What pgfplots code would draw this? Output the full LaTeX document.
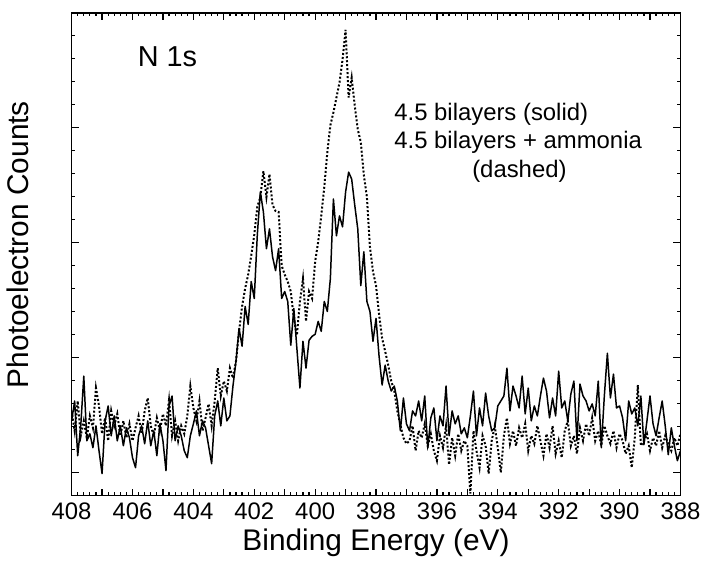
\documentclass[border=0pt]{standalone}
\usepackage{fontspec}
\setmainfont{Liberation Sans}
\usepackage{pgfplots}
\pgfplotsset{compat=1.18}
\begin{document}
\begin{tikzpicture}
\begin{axis}[
    name=ax,
    scale only axis,
    width=306pt, height=242.5pt,
    xmin=388, xmax=408, x dir=reverse,
    ymin=0, ymax=485,
    xtick={388,390,...,408},
    minor x tick num=9,
    extra x ticks={389,391,...,407},
    extra x tick labels={},
    ytick={23.1,138.6,254.1,369.6},
    yticklabels={},
    minor ytick={0,23.1,...,485},
    tick align=inside,
    major tick length=3.5pt,
    minor tick length=1.8pt,
    every tick/.style={black, line width=0.6pt},
    axis line style={line width=0.8pt},
    /pgf/number format/assume math mode=true,
    tick label style={font=\fontsize{12}{14}\selectfont},
    xlabel={Binding Energy (eV)},
    ylabel={Photoelectron Counts},
    xlabel style={at={(axis description cs:0.5,-0.097)}, anchor=center, font=\fontsize{15}{18}\selectfont},
    ylabel style={at={(axis description cs:-0.088,0.52)}, anchor=center, font=\fontsize{15}{18}\selectfont},
]
% 4.5 bilayers (solid)
\addplot[black, line width=0.75pt, line join=round] coordinates {
(408.0,75) (407.9,95) (407.8,40) (407.7,70) (407.6,120) (407.5,55) (407.4,62) (407.3,48) (407.2,70) (407.1,45)
(407.0,22) (406.9,75) (406.8,90) (406.7,60) (406.6,80) (406.5,55) (406.4,70) (406.3,50) (406.2,68) (406.1,58)
(406.0,38) (405.9,28) (405.8,60) (405.7,70) (405.6,52) (405.5,75) (405.4,50) (405.3,65) (405.2,40) (405.1,72)
(405.0,55) (404.9,25) (404.8,90) (404.7,100) (404.6,55) (404.5,70) (404.4,60) (404.3,45) (404.2,38) (404.1,60)
(404.0,72) (403.9,85) (403.8,60) (403.7,75) (403.6,68) (403.5,50) (403.4,32) (403.3,80) (403.2,95) (403.1,70)
(403.0,98) (402.9,75) (402.8,80) (402.7,110) (402.6,135) (402.5,168) (402.4,150) (402.3,190) (402.2,172) (402.1,215)
(402.0,198) (401.9,262) (401.8,305) (401.7,285) (401.6,248) (401.5,268) (401.4,240) (401.3,226) (401.2,248) (401.1,198)
(401.0,205) (400.9,195) (400.8,151) (400.7,188) (400.6,148) (400.5,108) (400.4,155) (400.3,128) (400.2,156) (400.1,160)
(400.0,162) (399.9,175) (399.8,165) (399.7,195) (399.6,185) (399.5,218) (399.4,298) (399.3,261) (399.2,281) (399.1,270)
(399.0,305) (398.9,325) (398.8,318) (398.7,292) (398.6,268) (398.5,211) (398.4,245) (398.3,195) (398.2,185) (398.1,155)
(398.0,178) (397.9,140) (397.8,111) (397.7,131) (397.6,115) (397.5,105) (397.4,110) (397.3,95) (397.2,65) (397.1,98)
(397.0,72) (396.9,65) (396.8,85) (396.7,80) (396.6,95) (396.5,75) (396.4,100) (396.3,48) (396.2,78) (396.1,88)
(396.0,55) (395.9,80) (395.8,70) (395.7,110) (395.6,60) (395.5,85) (395.4,72) (395.3,80) (395.2,62) (395.1,68)
(395.0,58) (394.9,80) (394.8,105) (394.7,60) (394.6,88) (394.5,70) (394.4,103) (394.3,80) (394.2,65) (394.1,68)
(394.0,90) (393.9,95) (393.8,100) (393.7,128) (393.6,85) (393.5,110) (393.4,100) (393.3,88) (393.2,120) (393.1,82)
(393.0,108) (392.9,75) (392.8,90) (392.7,80) (392.6,100) (392.5,118) (392.4,105) (392.3,78) (392.2,98) (392.1,80)
(392.0,125) (391.9,88) (391.8,95) (391.7,75) (391.6,102) (391.5,115) (391.4,55) (391.3,112) (391.2,100) (391.1,95)
(391.0,85) (390.9,92) (390.8,80) (390.7,115) (390.6,48) (390.5,100) (390.4,143) (390.3,98) (390.2,122) (390.1,88)
(390.0,90) (389.9,78) (389.8,55) (389.7,95) (389.6,82) (389.5,88) (389.4,70) (389.3,100) (389.2,51) (389.1,75)
(389.0,100) (388.9,72) (388.8,60) (388.7,78) (388.6,95) (388.5,70) (388.4,41) (388.3,68) (388.2,50) (388.1,35)
(388.0,45)
};
% 4.5 bilayers + ammonia (dashed)
\addplot[black, line width=1pt, dash pattern=on 1pt off 1pt] coordinates {
(408.0,85) (407.9,65) (407.8,95) (407.7,60) (407.6,75) (407.5,58) (407.4,80) (407.3,68) (407.2,108) (407.1,90)
(407.0,62) (406.9,78) (406.8,55) (406.7,85) (406.6,70) (406.5,82) (406.4,60) (406.3,75) (406.2,58) (406.1,72)
(406.0,55) (405.9,68) (405.8,80) (405.7,62) (405.6,85) (405.5,98) (405.4,70) (405.3,60) (405.2,78) (405.1,65)
(405.0,82) (404.9,70) (404.8,96) (404.7,60) (404.6,75) (404.5,55) (404.4,70) (404.3,62) (404.2,80) (404.1,110)
(404.0,88) (403.9,75) (403.8,95) (403.7,65) (403.6,78) (403.5,92) (403.4,70) (403.3,95) (403.2,128) (403.1,100)
(403.0,115) (402.9,105) (402.8,128) (402.7,118) (402.6,135) (402.5,165) (402.4,190) (402.3,208) (402.2,222) (402.1,241)
(402.0,262) (401.9,290) (401.8,300) (401.7,326) (401.6,300) (401.5,323) (401.4,292) (401.3,286) (401.2,285) (401.1,231)
(401.0,222) (400.9,215) (400.8,205) (400.7,178) (400.6,161) (400.5,195) (400.4,218) (400.3,175) (400.2,205) (400.1,198)
(400.0,235) (399.9,255) (399.8,281) (399.7,310) (399.6,345) (399.5,372) (399.4,385) (399.3,400) (399.2,415) (399.1,438)
(399.0,468) (398.9,400) (398.8,420) (398.7,392) (398.6,368) (398.5,355) (398.4,322) (398.3,300) (398.2,250) (398.1,225)
(398.0,211) (397.9,182) (397.8,158) (397.7,145) (397.6,131) (397.5,115) (397.4,105) (397.3,85) (397.2,71) (397.1,58)
(397.0,52) (396.9,55) (396.8,70) (396.7,45) (396.6,65) (396.5,58) (396.4,72) (396.3,50) (396.2,62) (396.1,45)
(396.0,35) (395.9,60) (395.8,48) (395.7,70) (395.6,31) (395.5,58) (395.4,40) (395.3,62) (395.2,45) (395.1,55)
(395.0,50) (394.9,2) (394.8,65) (394.7,45) (394.6,28) (394.5,60) (394.4,50) (394.3,22) (394.2,55) (394.1,70)
(394.0,48) (393.9,23) (393.8,60) (393.7,78) (393.6,52) (393.5,65) (393.4,50) (393.3,68) (393.2,58) (393.1,72)
(393.0,45) (392.9,60) (392.8,52) (392.7,70) (392.6,55) (392.5,40) (392.4,62) (392.3,48) (392.2,70) (392.1,42)
(392.0,55) (391.9,38) (391.8,65) (391.7,75) (391.6,50) (391.5,60) (391.4,42) (391.3,68) (391.2,55) (391.1,72)
(391.0,60) (390.9,78) (390.8,55) (390.7,65) (390.6,50) (390.5,70) (390.4,60) (390.3,52) (390.2,65) (390.1,48)
(390.0,62) (389.9,55) (389.8,42) (389.7,50) (389.6,28) (389.5,58) (389.4,111) (389.3,50) (389.2,55) (389.1,62)
(389.0,45) (388.9,58) (388.8,50) (388.7,65) (388.6,48) (388.5,60) (388.4,52) (388.3,45) (388.2,58) (388.1,50)
(388.0,62)
};
\node[anchor=west, inner sep=0pt, font=\fontsize{14.5}{17}\selectfont] at (axis cs:405.84,441) {N 1s};
\node[anchor=west, inner sep=0pt, font=\fontsize{12}{14}\selectfont] at (axis cs:397.41,383) {4.5 bilayers (solid)};
\node[anchor=west, inner sep=0pt, font=\fontsize{12}{14}\selectfont] at (axis cs:397.41,355) {4.5 bilayers + ammonia};
\node[anchor=center, inner sep=0pt, font=\fontsize{12}{14}\selectfont] at (axis cs:393.29,326) {(dashed)};
\end{axis}
\path ([shift={(-36pt,-36.5pt)}]ax.south west) rectangle ([shift={(11.5pt,6.5pt)}]ax.north east);
\end{tikzpicture}
\end{document}
